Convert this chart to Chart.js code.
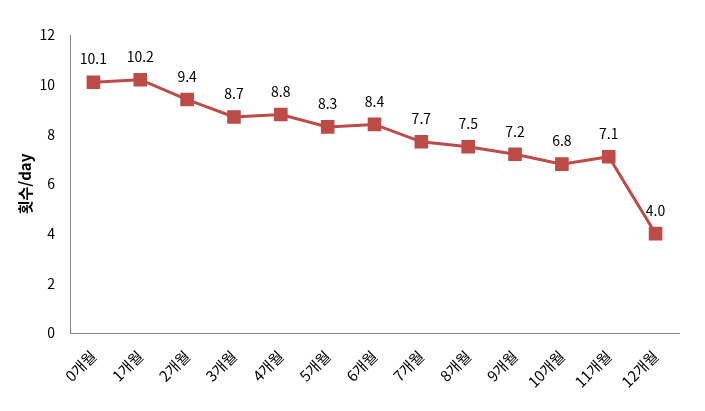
<!DOCTYPE html>
<html lang="ko">
<head>
  <meta charset="UTF-8" />
  <title>횟수/day</title>
  <script src="https://cdn.jsdelivr.net/npm/chart.js"></script>
  <style>
    body { margin: 0; padding: 0; background: #fff; }
    #wrap { width: 705px; height: 411px; }
  </style>
</head>
<body>
  <div id="wrap"><canvas id="c"></canvas></div>
  <script>
    const months = ['0개월', '1개월', '2개월', '3개월', '4개월', '5개월', '6개월',
                    '7개월', '8개월', '9개월', '10개월', '11개월', '12개월'];
    const counts = [10.1, 10.2, 9.4, 8.7, 8.8, 8.3, 8.4, 7.7, 7.5, 7.2, 6.8, 7.1, 4.0];
    const yTicks = [0, 2, 4, 6, 8, 10, 12];

    const FONT = "'Noto Sans CJK KR', 'Noto Sans', sans-serif";

    // value labels above each point
    const valueLabels = {
      id: 'valueLabels',
      afterDatasetsDraw(chart) {
        const ctx = chart.ctx;
        const meta = chart.getDatasetMeta(0);
        ctx.save();
        ctx.font = '14px ' + FONT;
        ctx.fillStyle = '#000';
        ctx.textAlign = 'center';
        ctx.textBaseline = 'middle';
        meta.data.forEach((pt, i) => {
          ctx.fillText(counts[i].toFixed(1), pt.x, pt.y - 23);
        });
        ctx.restore();
      }
    };

    new Chart(document.getElementById('c'), {
      type: 'line',
      data: {
        labels: months,
        datasets: [{
          data: counts,
          borderColor: '#BE4B48',
          backgroundColor: '#BE4B48',
          borderWidth: 3,
          pointStyle: 'rect',
          pointRadius: 7.5,
          pointHoverRadius: 7.5,
          tension: 0
        }]
      },
      options: {
        responsive: true,
        maintainAspectRatio: false,
        animation: false,
        events: [],
        layout: { padding: { top: 35, right: 26, left: 0, bottom: 0 } },
        plugins: {
          legend: { display: false },
          tooltip: { enabled: false }
        },
        scales: {
          x: {
            offset: true,
            grid: { display: false, drawTicks: false },
            border: { display: true, color: '#868686', width: 1 },
            ticks: {
              color: '#000',
              font: { family: FONT, size: 15 },
              maxRotation: 45,
              minRotation: 45,
              padding: 14,
              autoSkip: false
            },
            afterFit(scale) { scale.height = 78; }
          },
          y: {
            min: 0,
            max: 12,
            afterBuildTicks(scale) { scale.ticks = yTicks.map(v => ({ value: v })); },
            grid: { display: false, drawTicks: false },
            border: { display: true, color: '#868686', width: 1 },
            ticks: {
              color: '#000',
              font: { family: FONT, size: 14 },
              padding: 15
            },
            title: {
              display: true,
              text: '횟수/day',
              color: '#000',
              font: { family: FONT, size: 15, weight: 'bold' },
              padding: { top: 16, bottom: 4 }
            },
            afterFit(scale) { scale.width = 70; }
          }
        }
      },
      plugins: [valueLabels]
    });
  </script>
</body>
</html>
